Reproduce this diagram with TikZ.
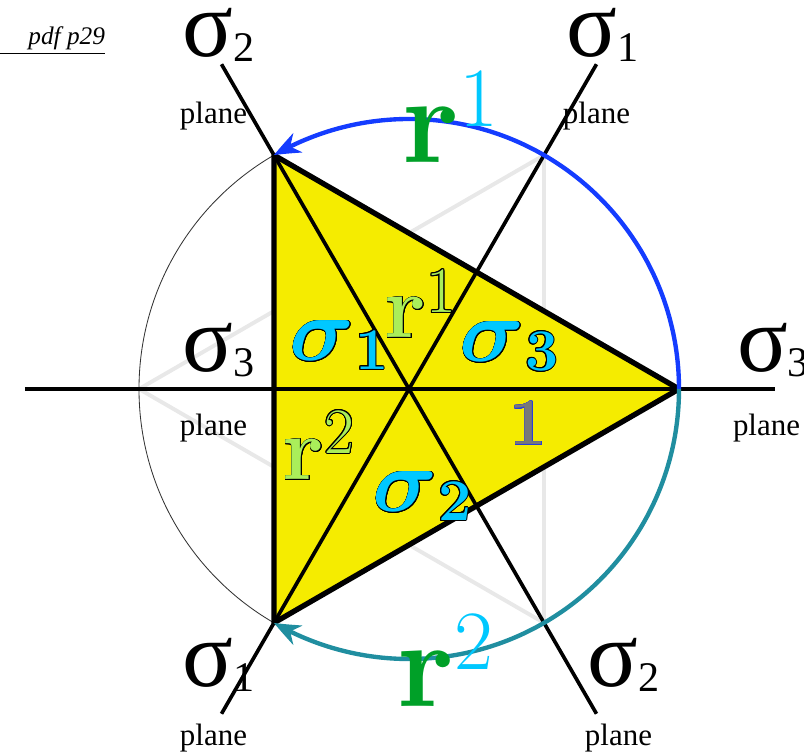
\RequirePackage{fix-cm}
\documentclass[tikz,border=0pt]{standalone}
\usepackage{amsmath}
\usepackage{fontspec}
\newfontfamily\timesfont{Liberation Serif}
\usepackage{contour}
\contourlength{0.7pt}
\usetikzlibrary{arrows.meta, bending, calc}

\definecolor{triyellow}{RGB}{245,236,0}
\definecolor{arcblue}{RGB}{20,60,255}
\definecolor{arcteal}{RGB}{32,142,160}
\definecolor{ghostgray}{RGB}{232,232,232}
\definecolor{sigcyan}{RGB}{0,200,255}
\definecolor{rgreen}{RGB}{0,160,40}
\definecolor{rlight}{RGB}{170,238,90}
\definecolor{idgray}{RGB}{120,120,120}
\definecolor{idblue}{RGB}{40,60,220}

% small raised / lowered indices
\newcommand{\planesub}[1]{{\fontsize{30}{30}\selectfont\raisebox{-3pt}{#1}}}
\newcommand{\bigsup}[2]{{\color{sigcyan}\fontsize{60}{60}\selectfont\mdseries\raisebox{#1}{#2}}}
\newcommand{\innersup}[2]{\raisebox{#1}{\fontsize{46}{46}\selectfont\mdseries #2}}
\newcommand{\innersub}[1]{\raisebox{-6pt}{\fontsize{42}{42}\selectfont\bfseries #1}}

\begin{document}
\begin{tikzpicture}[
  x=0.025cm, y=0.025cm,
  every node/.style={inner sep=0pt, outer sep=0pt, anchor=base west},
  ghost/.style={line width=2.8pt, ghostgray},
  rim/.style={line width=0.6pt, black!80},
  tri/.style={fill=triyellow, draw=black, line width=3.8pt, line join=round},
  planeline/.style={line width=2.6pt, black},
  rotarrow/.style={line width=3.1pt, -{Stealth[length=19pt, width=15pt, inset=6pt, bend]}},
  planesig/.style={font=\timesfont\fontsize{67}{67}\selectfont},
  planeword/.style={font=\timesfont\fontsize{22}{22}\selectfont},
  bigr/.style={font=\fontsize{88}{88}\selectfont\bfseries, text=rgreen},
  innersig/.style={font=\fontsize{64}{64}\selectfont, text=sigcyan},
  innerr/.style={font=\fontsize{64}{64}\selectfont\bfseries, text=rlight}
]
  \useasboundingbox (-409,-367) rectangle (395,389);

  % centre and corners of the triangle
  \coordinate (O) at (0,0);
  \coordinate (v0) at (0:270);
  \coordinate (v1) at (120:270);
  \coordinate (v2) at (240:270);

  % faint second triangle and the circle
  \draw[ghost] (60:270) -- (180:270) -- (300:270) -- cycle;
  \draw[rim] (O) circle (270);

  \filldraw[tri] (v0) -- (v1) -- (v2) -- cycle;

  % mirror planes
  \coordinate (p3a) at (-384,0);
  \coordinate (p3b) at (366,0);
  \coordinate (p1a) at (240:375);
  \coordinate (p1b) at (60:375);
  \coordinate (p2a) at (120:375);
  \coordinate (p2b) at (300:375);
  \draw[planeline] (p3a) -- (p3b);
  \draw[planeline] (p1a) -- (p1b);
  \draw[planeline] (p2a) -- (p2b);

  % rotations r^1 and r^2
  \draw[rotarrow, arcblue] (v0) arc[start angle=0, end angle=120, radius=270];
  \draw[rotarrow, arcteal] (v0) arc[start angle=0, end angle=-120, radius=270];

  % plane names
  \node[planesig] (sigTL) at (-226,332) {σ\planesub{2}};
  \node[planesig] (sigTR) at (158,332) {σ\planesub{1}};
  \node[planesig] (sigL) at (-226,17) {σ\planesub{3}};
  \node[planesig] (sigR) at (328,17) {σ\planesub{3}};
  \node[planesig] (sigBL) at (-226,-298) {σ\planesub{1}};
  \node[planesig] (sigBR) at (179,-298) {σ\planesub{2}};

  \node[planeword] (plTL) at (-229,265) {plane};
  \node[planeword] (plTR) at (154,265) {plane};
  \node[planeword] (plL) at (-229,-47) {plane};
  \node[planeword] (plR) at (324,-47) {plane};
  \node[planeword] (plBL) at (-229,-356) {plane};
  \node[planeword] (plBR) at (176,-357) {plane};

  % rotation names on the arcs
  \node[bigr] (rotA) at (-6,226) {r\bigsup{26pt}{1}};
  \node[bigr] (rotB) at (-11,-317) {r\bigsup{26pt}{2}};

  % names of the six regions
  \node[innersig] (regS1) at (-119,28) {\contour{black}{$\boldsymbol{\sigma}$\innersub{1}}};
  \node[innersig] (regS3) at (51,27) {\contour{black}{$\boldsymbol{\sigma}$\innersub{3}}};
  \node[innersig] (regS2) at (-36,-123) {\contour{black}{$\boldsymbol{\sigma}$\innersub{2}}};
  \node[innerr] (regR1) at (-24,51) {\contour{black}{r\innersup{18pt}{1}}};
  \node[innerr] (regR2) at (-126,-91) {\contour{black}{r\innersup{19pt}{2}}};
  \node[font=\fontsize{47}{47}\selectfont\bfseries, text=idgray] (regE) at (101,-56)
    {\contour{idblue}{1}};

  % page note
  \node[font=\timesfont\itshape\fontsize{18}{18}\selectfont, anchor=base east] (note)
    at (-304,344) {\underline{\hspace{20pt}pdf p29}};
\end{tikzpicture}
\end{document}
